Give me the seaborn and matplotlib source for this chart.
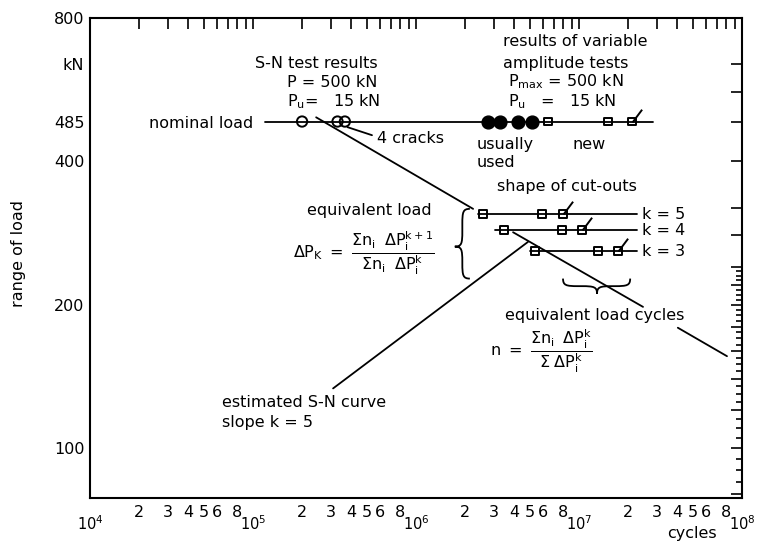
import numpy as np
import pandas as pd
import matplotlib.pyplot as plt
import seaborn as sns
from matplotlib.path import Path
from matplotlib.patches import PathPatch
from matplotlib.ticker import FixedLocator, FixedFormatter, NullFormatter

# values: cycles (x) and range of load in kN (y)
nominal_load = 485
nominal_cycles = [1.19e5, 2.84e7]

sn_results_cycles = [2.0e5, 3.3e5, 3.66e5]            # open circles
usual_cycles = [2.77e6, 3.27e6, 4.22e6, 5.15e6]      # filled circles, "usually used"
new_cycles = [6.46e6, 1.51e7, 2.11e7]                # squares, "new"

row_k = [5, 4, 3]
row_load = [310, 287, 259]
row_start = [2.40e6, 3.06e6, 5.0e6]
row_end = [2.27e7, 2.27e7, 2.27e7]
row_squares = [[2.58e6, 5.93e6, 7.98e6],
               [3.47e6, 7.87e6, 1.04e7],
               [5.37e6, 1.31e7, 1.73e7]]

# estimated S-N curve (slope k = 5), drawn in pieces around labels
sn_seg = [0, 0, 1, 1, 2, 2]
sn_cycles = [2.44e5, 2.24e6, 3.94e6, 2.47e7, 4.04e7, 8.09e7]
sn_load = [495, 318, 284, 198, 179, 156]

# leader lines
lead_seg = [0, 0, 1, 1]
lead_cycles = [3.8e5, 5.37e5, 3.10e5, 4.86e6]
lead_load = [472, 454, 133.5, 271]

y_major = [80, 100, 120, 140, 160, 180, 200, 220, 240, 280, 320, 400, 485, 560, 640, 800]
y_labels = {100: '100', 200: '200', 400: '400', 485: '485', 640: 'kN', 800: '800'}
y_minor = [v for v in range(85, 240, 5) if v % 20 != 0]

sns.set_theme(style='white')
plt.rcParams['font.family'] = ['DejaVu Sans']
plt.rcParams['mathtext.fontset'] = 'dejavusans'
plt.rcParams['mathtext.default'] = 'regular'

fig = plt.figure(figsize=(7.66, 5.44), dpi=100)
ax = fig.add_axes([90/766, 46/544, 652/766, 480/544])
ax.set_xscale('log')
ax.set_yscale('log')
ax.set_xlim(1e4, 1e8)
ax.set_ylim(78.6, 800)

lw = 1.3
# lines
sns.lineplot(x=nominal_cycles, y=[nominal_load]*2, color='black', lw=lw, ax=ax)
rows = pd.DataFrame({'seg': np.repeat(row_k, 2),
                     'cycles': np.ravel(list(zip(row_start, row_end))),
                     'load': np.repeat(row_load, 2)})
sns.lineplot(data=rows, x='cycles', y='load', units='seg', estimator=None,
             sort=False, color='black', lw=lw, ax=ax)
sn = pd.DataFrame({'seg': sn_seg, 'cycles': sn_cycles, 'load': sn_load})
sns.lineplot(data=sn, x='cycles', y='load', units='seg', estimator=None,
             sort=False, color='black', lw=lw, ax=ax)
lead = pd.DataFrame({'seg': lead_seg, 'cycles': lead_cycles, 'load': lead_load})
sns.lineplot(data=lead, x='cycles', y='load', units='seg', estimator=None,
             sort=False, color='black', lw=lw, ax=ax)

# markers
sns.scatterplot(x=sn_results_cycles, y=[nominal_load]*3, marker='o', s=55,
                facecolor='none', edgecolor='black', linewidth=1.4, zorder=5, ax=ax)
sns.scatterplot(x=usual_cycles, y=[nominal_load]*4, marker='o', s=85,
                color='black', edgecolor='black', linewidth=1, zorder=5, ax=ax)
sq_x = new_cycles + sum(row_squares, [])
sq_y = [nominal_load]*3 + list(np.repeat(row_load, 3))
sns.scatterplot(x=sq_x, y=sq_y, marker='s', s=32, facecolor='none',
                edgecolor='black', linewidth=1.4, zorder=5, ax=ax)
runout_x = [new_cycles[-1]] + [r[-1] for r in row_squares]
runout_y = [nominal_load] + row_load
sns.scatterplot(x=runout_x, y=runout_y, marker=[(0, 0), (0.75, 1.0)], s=340,
                color='black', edgecolor='black', linewidth=1.4, zorder=5, ax=ax)


def curly_brace(ax, p0, p1, tip, lw=1.3):
    to_px = ax.transData.transform
    a, b, t = to_px(p0), to_px(p1), to_px(tip)
    L = np.hypot(*(b - a))
    u = (b - a) / L
    n = np.array([-u[1], u[0]])
    d = np.dot(t - a, n)
    st = np.dot(t - a, u)
    q = min(abs(d), L / 4)
    h = d / 2
    loc = [(0, 0), (0, h*0.9), (q*0.2, h), (q, h),
           (st - q, h), (st - q*0.2, h), (st, h*1.1), (st, d),
           (st, h*1.1), (st + q*0.2, h), (st + q, h),
           (L - q, h), (L - q*0.2, h), (L, h*0.9), (L, 0)]
    codes = [Path.MOVETO] + [Path.CURVE4]*3 + [Path.LINETO] + [Path.CURVE4]*3 \
        + [Path.CURVE4]*3 + [Path.LINETO] + [Path.CURVE4]*3
    verts = np.array([a + s*u + hh*n for s, hh in loc])
    verts = ax.transAxes.inverted().transform(verts)
    ax.add_patch(PathPatch(Path(verts, codes), transform=ax.transAxes,
                           fill=False, lw=lw, color='black', clip_on=False))


curly_brace(ax, (2.14e6, 318), (2.14e6, 227), (1.73e6, 265))
curly_brace(ax, (7.98e6, 227), (2.06e7, 227), (1.29e7, 211))

fs = 11.5
txt = dict(fontsize=fs, color='black', va='center')
ax.text(1.03e5, 642, 'S-N test results', **txt)
ax.text(1.62e5, 586, 'P = 500 kN', **txt)
ax.text(1.62e5, 534, 'P$_u$=   15 kN', **txt)
ax.text(1.0e5, 480, 'nominal load', ha='right', **txt)
ax.text(5.77e5, 447, '4 cracks', **txt)
ax.text(9.45e6, 714, 'results of variable', ha='center', **txt)
ax.text(8.3e6, 642, 'amplitude tests', ha='center', **txt)
ax.text(3.67e6, 589, 'P$_{max}$ = 500 kN', **txt)
ax.text(3.67e6, 534, 'P$_u$   =   15 kN', **txt)
ax.text(2.37e6, 435, 'usually', **txt)
ax.text(2.37e6, 397, 'used', **txt)
ax.text(9.06e6, 435, 'new', **txt)
ax.text(3.14e6, 355, 'shape of cut-outs', **txt)
for k, load in zip(row_k, row_load):
    ax.text(2.44e7, load, f'k = {k}', **txt)
ax.text(2.14e5, 315, 'equivalent load', **txt)
ax.text(1.76e5, 257, r'$\Delta P_K\ =\ \dfrac{\Sigma n_i\;\;\Delta P_i^{k+1}}{\Sigma n_i\;\;\Delta P_i^{k}}$', **txt)
ax.text(3.52e6, 190, 'equivalent load cycles', **txt)
ax.text(2.84e6, 160, r'$n\ =\ \dfrac{\Sigma n_i\;\;\Delta P_i^{k}}{\Sigma\;\Delta P_i^{k}}$', **txt)
ax.text(6.45e4, 124.8, 'estimated S-N curve', **txt)
ax.text(6.45e4, 113.3, 'slope k = 5', **txt)

# axes: ticks inside on all four sides
ax.yaxis.set_major_locator(FixedLocator(y_major))
ax.yaxis.set_major_formatter(FixedFormatter([y_labels.get(v, '') for v in y_major]))
ax.yaxis.set_minor_locator(FixedLocator(y_minor))
ax.yaxis.set_minor_formatter(NullFormatter())

x_major = [1e4, 1e5, 1e6, 1e7, 1e8]
x_minor = [m * 10**e for e in range(4, 8) for m in range(2, 10)]
x_minor_lab = [str(m) if m not in (7, 9) else '' for e in range(4, 8) for m in range(2, 10)]
ax.xaxis.set_major_locator(FixedLocator(x_major))
ax.xaxis.set_major_formatter(FixedFormatter([f'$10^{{{e}}}$' for e in range(4, 9)]))
ax.xaxis.set_minor_locator(FixedLocator(x_minor))
ax.xaxis.set_minor_formatter(FixedFormatter(x_minor_lab))

ax.tick_params(which='both', direction='in', top=True, right=True,
               color='black', labelcolor='black', width=1.2)
ax.tick_params(axis='y', which='major', length=8, pad=4, labelsize=fs)
ax.tick_params(axis='y', which='minor', length=4)
ax.tick_params(axis='x', which='minor', length=8, pad=5, labelsize=fs)
ax.tick_params(axis='x', which='major', length=8, pad=12, labelsize=10.5)

for sp in ax.spines.values():
    sp.set_color('black')
    sp.set_linewidth(1.5)

ax.set_ylabel('range of load', fontsize=fs, color='black')
ax.yaxis.set_label_coords(-0.098, 0.51)
ax.set_xlabel('cycles', fontsize=fs, color='black')
ax.xaxis.set_label_coords(0.923, -0.058)

fig.savefig('out.png', dpi=100)
